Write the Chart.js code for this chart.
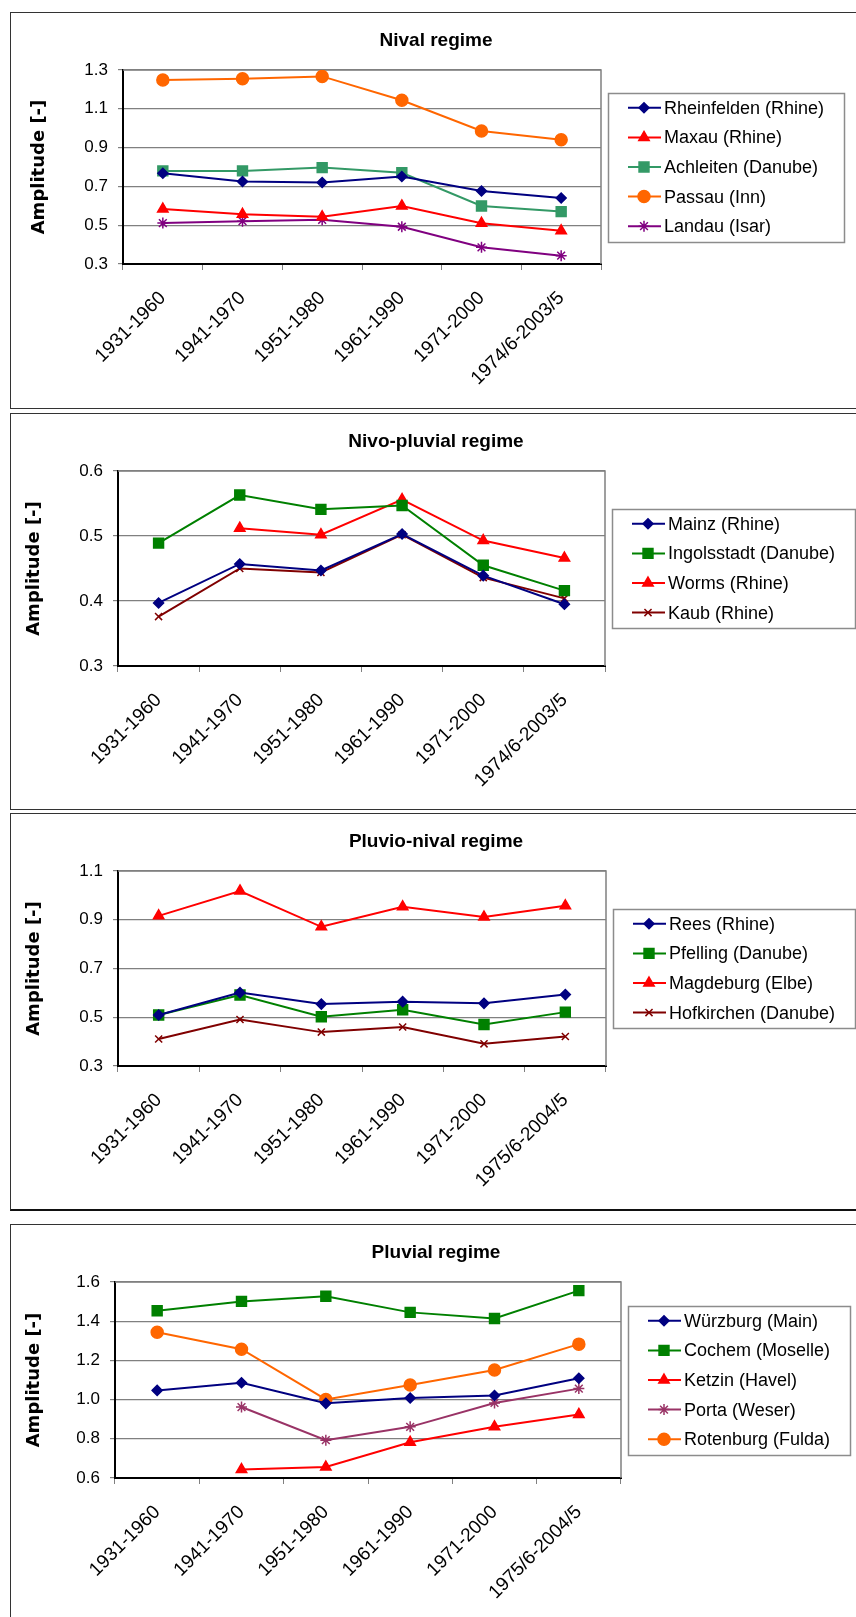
<!DOCTYPE html>
<html>
<head>
<meta charset="utf-8">
<title>Amplitude by regime</title>
<script src="https://cdn.jsdelivr.net/npm/chart.js@4.4.1/dist/chart.umd.min.js"></script>
<style>
  html, body { margin: 0; padding: 0; background: #fff; }
  body { position: relative; width: 856px; height: 1617px; overflow: hidden; }
  .frame { position: absolute; left: 10px; width: 900px; border: 1px solid #333; box-sizing: border-box; }
  canvas { position: absolute; left: 0; }
</style>
</head>
<body>
<div class="frame" style="top:12px;height:397px"></div>
<div class="frame" style="top:413px;height:397px"></div>
<div class="frame" style="top:813px;height:398px;border-bottom:2px solid #111"></div>
<div class="frame" style="top:1224px;height:500px"></div>

<canvas id="nival" width="856" height="396" style="top:12px"></canvas>
<canvas id="nivoPluvial" width="856" height="396" style="top:413px"></canvas>
<canvas id="pluvioNival" width="856" height="396" style="top:813px"></canvas>
<canvas id="pluvial" width="856" height="393" style="top:1224px"></canvas>

<script>
// x categories (30-year windows)
var periods1974 = ['1931-1960', '1941-1970', '1951-1980', '1961-1990', '1971-2000', '1974/6-2003/5'];
var periods1975 = ['1931-1960', '1941-1970', '1951-1980', '1961-1990', '1971-2000', '1975/6-2004/5'];

// Nival regime
var rheinfelden = [0.768, 0.725, 0.720, 0.751, 0.676, 0.640];
var maxau       = [0.583, 0.556, 0.543, 0.599, 0.510, 0.471];
var achleiten   = [0.780, 0.780, 0.797, 0.770, 0.599, 0.570];
var passau      = [1.248, 1.255, 1.267, 1.144, 0.986, 0.940];
var landau      = [0.511, 0.521, 0.528, 0.492, 0.386, 0.343];
var nivalTicks  = [0.3, 0.5, 0.7, 0.9, 1.1, 1.3];

// Nivo-pluvial regime
var mainz       = [0.397, 0.457, 0.447, 0.503, 0.439, 0.395];
var ingolstadt  = [0.489, 0.563, 0.541, 0.547, 0.455, 0.416];
var worms       = [null, 0.512, 0.502, 0.556, 0.493, 0.466];
var kaub        = [0.376, 0.450, 0.444, 0.502, 0.436, 0.404];
var nivoPluvialTicks = [0.3, 0.4, 0.5, 0.6];

// Pluvio-nival regime
var rees        = [0.509, 0.601, 0.554, 0.564, 0.557, 0.593];
var pfelling    = [0.509, 0.591, 0.502, 0.531, 0.470, 0.521];
var magdeburg   = [0.916, 1.018, 0.871, 0.953, 0.911, 0.957];
var hofkirchen  = [0.411, 0.491, 0.439, 0.460, 0.391, 0.421];
var pluvioNivalTicks = [0.3, 0.5, 0.7, 0.9, 1.1];

// Pluvial regime
var wuerzburg   = [1.047, 1.086, 0.981, 1.008, 1.021, 1.109];
var cochem      = [1.453, 1.501, 1.527, 1.445, 1.414, 1.556];
var ketzin      = [null, 0.643, 0.656, 0.782, 0.861, 0.924];
var porta       = [null, 0.962, 0.793, 0.861, 0.983, 1.056];
var rotenburg   = [1.344, 1.257, 1.001, 1.074, 1.151, 1.283];
var pluvialTicks = [0.6, 0.8, 1.0, 1.2, 1.4, 1.6];

var SANS = '"Liberation Sans", Arial, Helvetica, sans-serif';
Chart.defaults.font.family = SANS;
Chart.defaults.color = '#000';

// marker looks, Excel style
var NAVY_DIAMOND   = { color: '#000080', point: 'rectRot',  radius: 5 };
var RED_TRIANGLE   = { color: '#ff0000', point: 'triangle', radius: 6 };
var SEA_SQUARE     = { color: '#339966', point: 'rect',     radius: 7 };
var GREEN_SQUARE   = { color: '#008000', point: 'rect',     radius: 7 };
var ORANGE_CIRCLE  = { color: '#ff6600', point: 'circle',   radius: 6 };
var PURPLE_STAR    = { color: '#800080', point: 'star',     radius: 5.5 };
var PLUM_STAR      = { color: '#993366', point: 'star',     radius: 5.5 };
var MAROON_CROSS   = { color: '#800000', point: 'crossRot', radius: 5 };

function series(label, data, look) {
    return {
        label: label,
        data: data,
        borderColor: look.color,
        backgroundColor: look.color,
        borderWidth: 2,
        pointStyle: look.point,
        pointRadius: look.radius,
        pointBackgroundColor: look.color,
        pointBorderColor: look.color,
        pointBorderWidth: 1.5,
        tension: 0
    };
}

// gray top/right edge of the plot area
var plotFrame = {
    id: 'plotFrame',
    beforeDatasetsDraw: function(chart) {
        var a = chart.chartArea, ctx = chart.ctx;
        ctx.save();
        ctx.strokeStyle = '#808080';
        ctx.lineWidth = 1.5;
        ctx.beginPath();
        ctx.moveTo(a.left, a.top);
        ctx.lineTo(a.right, a.top);
        ctx.lineTo(a.right, a.bottom);
        ctx.stroke();
        ctx.restore();
    }
};

// legend in a gray box, vertically centred on the plot area
var boxedLegend = {
    id: 'boxedLegend',
    afterDraw: function(chart) {
        var ctx = chart.ctx, a = chart.chartArea;
        var sets = chart.data.datasets;
        var rowH = 29.6;
        ctx.save();
        ctx.font = '18px ' + SANS;
        var maxW = 0;
        sets.forEach(function(ds) { maxW = Math.max(maxW, ctx.measureText(ds.label).width); });
        var left = Math.round(a.right + 7);
        var w = Math.round(56 + maxW + 20);
        var h = Math.round(sets.length * rowH + 1);
        var top = Math.round((a.top + a.bottom) / 2 - h / 2);
        ctx.fillStyle = '#fff';
        ctx.fillRect(left, top, w, h);
        ctx.strokeStyle = '#8c8c8c';
        ctx.lineWidth = 1.5;
        ctx.strokeRect(left + 0.5, top + 0.5, w, h);

        sets.forEach(function(ds, i) {
            var y = top + rowH * (i + 0.5);
            ctx.strokeStyle = ds.borderColor;
            ctx.lineWidth = 2;
            ctx.beginPath();
            ctx.moveTo(left + 20, y);
            ctx.lineTo(left + 53, y);
            ctx.stroke();

            ctx.fillStyle = ds.pointBackgroundColor;
            ctx.strokeStyle = ds.pointBorderColor;
            ctx.lineWidth = ds.pointBorderWidth;
            Chart.helpers.drawPoint(ctx, {
                pointStyle: ds.pointStyle, radius: ds.pointRadius,
                borderWidth: ds.pointBorderWidth, rotation: 0
            }, left + 36, y);

            ctx.fillStyle = '#000';
            ctx.textAlign = 'left';
            ctx.textBaseline = 'middle';
            ctx.fillText(ds.label, left + 56, y + 1);
        });
        ctx.restore();
    }
};

// box: plot area edges in canvas pixels, yTitleX = centre of the axis title
function drawPanel(id, title, labels, datasets, yTicks, box) {
    var canvas = document.getElementById(id);
    var padLeft = 16;
    var yTitleSize = 18;
    return new Chart(canvas, {
        type: 'line',
        data: { labels: labels, datasets: datasets },
        plugins: [plotFrame, boxedLegend],
        options: {
            responsive: false,
            animation: false,
            events: [],
            layout: { padding: { left: padLeft, top: 0, right: 0, bottom: 0 } },
            plugins: {
                legend: { display: false },
                tooltip: { enabled: false },
                title: {
                    display: true,
                    text: title,
                    color: '#000',
                    font: { family: SANS, size: 19, weight: 'bold' },
                    padding: { top: 17, bottom: 18.2 }
                }
            },
            scales: {
                x: {
                    offset: true,
                    grid: { offset: true, drawOnChartArea: false, tickLength: 6, color: '#808080' },
                    border: { color: '#000', width: 2 },
                    ticks: {
                        color: '#000',
                        font: { family: SANS, size: 19 },
                        minRotation: 45, maxRotation: 45,
                        autoSkip: false,
                        padding: 17
                    },
                    afterFit: function(s) { s.height = canvas.height - box.bottom; }
                },
                y: {
                    min: yTicks[0],
                    max: yTicks[yTicks.length - 1],
                    afterBuildTicks: function(s) {
                        s.ticks = yTicks.map(function(v) { return { value: v }; });
                    },
                    grid: { color: '#808080', lineWidth: 1.2, tickLength: 5 },
                    border: { color: '#000', width: 2 },
                    ticks: {
                        color: '#000',
                        font: { family: SANS, size: 17 },
                        padding: 10,
                        callback: function(v) { return Number(v).toFixed(1); }
                    },
                    title: {
                        display: true,
                        text: 'Amplitude [-]',
                        color: '#000',
                        font: { family: '"DejaVu Sans", Verdana, sans-serif', size: yTitleSize, weight: 'bold' },
                        padding: { top: box.yTitleX - padLeft - yTitleSize * 0.6, bottom: 0 }
                    },
                    afterFit: function(s) { s.width = box.left - padLeft; }
                },
                // empty right-hand axis keeps room for the legend box
                yLegend: {
                    position: 'right',
                    display: true,
                    grid: { display: false },
                    border: { display: false },
                    ticks: { display: false },
                    afterFit: function(s) { s.width = canvas.width - box.right; }
                }
            }
        }
    });
}

function onLoad() {
    drawPanel('nival', 'Nival regime', periods1974, [
        series('Rheinfelden (Rhine)', rheinfelden, NAVY_DIAMOND),
        series('Maxau (Rhine)', maxau, RED_TRIANGLE),
        series('Achleiten (Danube)', achleiten, SEA_SQUARE),
        series('Passau (Inn)', passau, ORANGE_CIRCLE),
        series('Landau (Isar)', landau, PURPLE_STAR)
    ], nivalTicks, { left: 123, right: 601, bottom: 252, yTitleX: 39 });

    drawPanel('nivoPluvial', 'Nivo-pluvial regime', periods1974, [
        series('Mainz (Rhine)', mainz, NAVY_DIAMOND),
        series('Ingolsstadt (Danube)', ingolstadt, GREEN_SQUARE),
        series('Worms (Rhine)', worms, RED_TRIANGLE),
        series('Kaub (Rhine)', kaub, MAROON_CROSS)
    ], nivoPluvialTicks, { left: 118, right: 605, bottom: 253, yTitleX: 34 });

    drawPanel('pluvioNival', 'Pluvio-nival regime', periods1975, [
        series('Rees (Rhine)', rees, NAVY_DIAMOND),
        series('Pfelling (Danube)', pfelling, GREEN_SQUARE),
        series('Magdeburg (Elbe)', magdeburg, RED_TRIANGLE),
        series('Hofkirchen (Danube)', hofkirchen, MAROON_CROSS)
    ], pluvioNivalTicks, { left: 118, right: 606, bottom: 253, yTitleX: 34 });

    drawPanel('pluvial', 'Pluvial regime', periods1975, [
        series('Würzburg (Main)', wuerzburg, NAVY_DIAMOND),
        series('Cochem (Moselle)', cochem, GREEN_SQUARE),
        series('Ketzin (Havel)', ketzin, RED_TRIANGLE),
        series('Porta (Weser)', porta, PLUM_STAR),
        series('Rotenburg (Fulda)', rotenburg, ORANGE_CIRCLE)
    ], pluvialTicks, { left: 115, right: 621, bottom: 254, yTitleX: 34 });
}

onLoad();
</script>
</body>
</html>
